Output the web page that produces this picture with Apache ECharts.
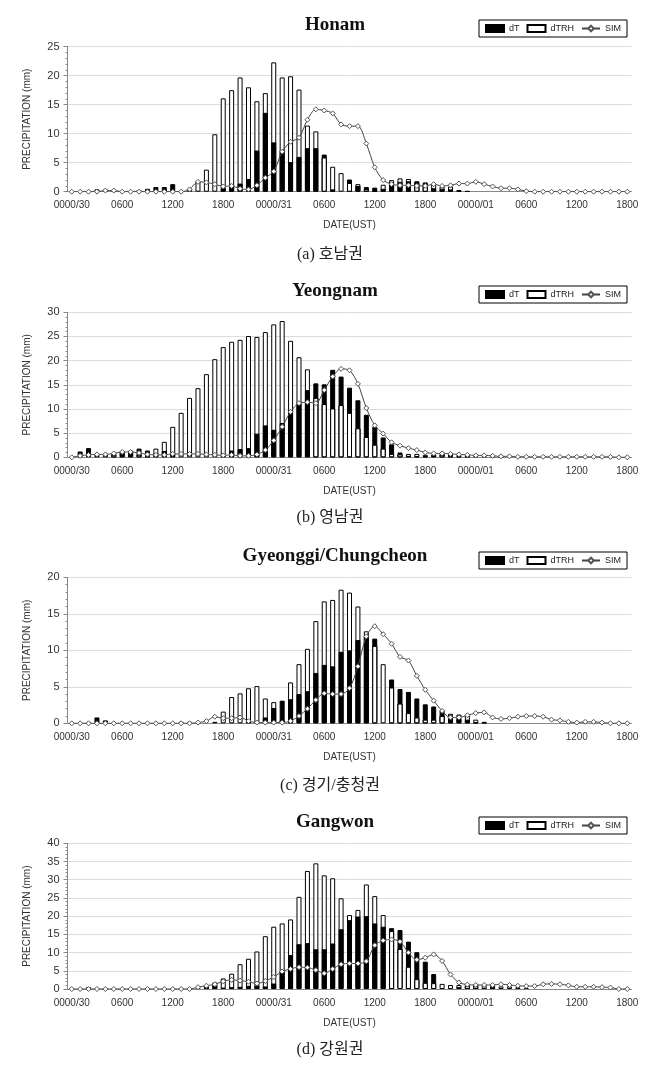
<!DOCTYPE html>
<html>
<head>
<meta charset="utf-8">
<script src="https://cdn.jsdelivr.net/npm/echarts@6/dist/echarts.min.js"></script>
<style>
html, body { margin: 0; padding: 0; background: #fff; }
#chart { width: 660px; height: 1068px; }
</style>
</head>
<body>
<div id="chart"></div>
<script>
// hourly categories, 0000 UTC on the 30th to 1800 UTC on the 1st
var categories = [
  '0000/30','0100','0200','0300','0400','0500','0600','0700','0800','0900','1000','1100',
  '1200','1300','1400','1500','1600','1700','1800','1900','2000','2100','2200','2300',
  '0000/31','0100','0200','0300','0400','0500','0600','0700','0800','0900','1000','1100',
  '1200','1300','1400','1500','1600','1700','1800','1900','2000','2100','2200','2300',
  '0000/01','0100','0200','0300','0400','0500','0600','0700','0800','0900','1000','1100',
  '1200','1300','1400','1500','1600','1700','1800'
];

var honamDT = [
  0, 0, 0, 0.4, 0.4, 0.2, 0, 0, 0.3, 0.5,
  0.8, 0.8, 1.3, 0.1, 0.5, 0, 0, 0, 0.6, 0.8,
  1.4, 2.2, 7.1, 13.6, 8.5, 7.1, 5.1, 6.0, 7.5, 7.5,
  6.4, 0.4, 0, 2.1, 1.0, 0.8, 0.7, 0.5, 1.5, 1.7,
  1.8, 1.8, 1.6, 0.6, 0.5, 0.4, 0.3, 0.1, 0, 0,
  0, 0, 0, 0, 0, 0, 0, 0, 0, 0,
  0, 0, 0, 0, 0, 0, 0
];
var honamDTRH = [
  0, 0, 0, 0, 0, 0, 0, 0, 0, 0,
  0, 0, 0, 0, 0, 1.8, 3.8, 9.9, 16.1, 17.5,
  19.7, 18.0, 15.6, 17.0, 22.3, 19.7, 19.9, 17.6, 11.4, 10.4,
  5.9, 4.3, 3.2, 1.5, 1.3, 0.4, 0.2, 1.2, 2.0, 2.3,
  2.2, 1.5, 1.3, 1.3, 0.9, 0.9, 0.2, 0, 0, 0,
  0, 0, 0, 0, 0, 0, 0, 0, 0, 0,
  0, 0, 0, 0, 0, 0, 0
];
var honamSIM = [
  0, 0, 0, 0, 0.2, 0.2, 0, 0, 0, 0,
  0, 0, 0, 0, 0.4, 1.7, 1.6, 1.3, 0.9, 1.0,
  0.5, 0.4, 1.1, 2.4, 3.5, 6.9, 8.6, 9.3, 12.4, 14.2,
  14.0, 13.5, 11.6, 11.3, 11.3, 8.3, 4.2, 2.0, 1.3, 1.1,
  1.1, 1.0, 1.0, 1.3, 1.0, 1.1, 1.4, 1.4, 1.7, 1.3,
  0.9, 0.6, 0.6, 0.4, 0.1, 0, 0, 0, 0, 0,
  0, 0, 0, 0, 0, 0, 0
];

var yeongnamDT = [
  0, 1.2, 1.9, 0.8, 0.7, 0.9, 1.2, 1.3, 1.8, 1.4,
  0.8, 1.3, 0.7, 0, 0, 0, 0, 0, 0.3, 1.4,
  1.7, 1.9, 4.9, 6.6, 5.7, 7.1, 9.5, 11.3, 13.9, 15.3,
  15.1, 18.1, 16.7, 14.4, 11.8, 8.8, 6.3, 4.1, 2.7, 1.0,
  0.3, 0.2, 0.2, 0.4, 1.0, 0.8, 0.2, 0.2, 0, 0,
  0, 0, 0, 0, 0, 0, 0, 0, 0, 0,
  0, 0, 0, 0, 0, 0, 0
];
var yeongnamDTRH = [
  0, 0, 0, 0, 0, 0.5, 1.3, 1.4, 0.5, 0.3,
  1.8, 3.2, 6.3, 9.2, 12.3, 14.3, 17.2, 20.3, 22.8, 23.9,
  24.3, 25.1, 24.9, 25.9, 27.5, 28.2, 24.1, 20.7, 18.2, 12.3,
  11.0, 10.1, 10.8, 9.2, 6.0, 4.2, 2.6, 1.8, 0.7, 0.6,
  0.7, 0.7, 0.5, 0.6, 0.5, 0.3, 0.5, 0.4, 0.3, 0.3,
  0.2, 0.1, 0, 0, 0, 0, 0, 0, 0, 0,
  0, 0, 0, 0, 0, 0, 0
];
var yeongnamSIM = [
  0, 0.3, 0.5, 0.6, 0.6, 0.8, 1.1, 1.1, 0.9, 0.6,
  0.5, 0.5, 0.7, 0.7, 0.7, 0.7, 0.6, 0.5, 0.4, 0.5,
  0.3, 0.3, 0.6, 1.5, 3.5, 6.3, 9.4, 11.2, 11.4, 11.2,
  13.9, 16.7, 18.3, 18.0, 15.2, 10.2, 6.6, 4.9, 3.1, 2.4,
  1.9, 1.5, 1.0, 0.8, 0.8, 0.7, 0.6, 0.5, 0.4, 0.4,
  0.3, 0.2, 0.2, 0.1, 0.1, 0.1, 0.1, 0.1, 0.1, 0.1,
  0.1, 0.1, 0.1, 0.1, 0.1, 0, 0
];

var gyeonggiDT = [
  0, 0, 0.1, 0.8, 0.4, 0, 0, 0, 0, 0,
  0, 0, 0, 0.2, 0.2, 0, 0, 0, 0, 0,
  0, 0.3, 0.1, 0.8, 2.1, 3.1, 3.3, 4.0, 4.4, 6.9,
  8.0, 7.8, 9.8, 10.0, 11.4, 12.0, 11.6, 0, 6.0, 4.7,
  4.3, 3.4, 2.6, 2.3, 1.8, 1.1, 0.6, 0.5, 0.1, 0.1,
  0, 0, 0, 0, 0, 0, 0, 0, 0, 0,
  0, 0, 0, 0, 0, 0, 0
];
var gyeonggiDTRH = [
  0, 0, 0, 0, 0, 0, 0, 0, 0, 0,
  0, 0, 0, 0, 0, 0, 0, 0.2, 1.6, 3.6,
  4.1, 4.8, 5.1, 3.4, 2.9, 0.4, 5.6, 8.1, 10.2, 14.0,
  16.7, 16.9, 18.3, 17.9, 16.0, 12.6, 10.6, 8.1, 4.9, 2.7,
  1.4, 0.8, 0.5, 0.5, 1.0, 1.3, 1.2, 1.1, 0.5, 0.2,
  0, 0, 0, 0, 0, 0, 0, 0, 0, 0,
  0, 0, 0, 0, 0, 0, 0
];
var gyeonggiSIM = [
  0, 0, 0, 0, 0, 0, 0, 0, 0, 0,
  0, 0, 0, 0, 0, 0.1, 0.3, 0.9, 0.7, 0.7,
  0.8, 0.3, 0.1, 0.1, 0.1, 0.1, 0.3, 1.0, 2.0, 3.2,
  4.1, 4.0, 4.0, 4.8, 7.8, 11.9, 13.3, 12.2, 10.9, 9.1,
  8.6, 6.5, 4.6, 3.1, 1.7, 0.8, 0.8, 1.1, 1.4, 1.5,
  0.8, 0.6, 0.7, 0.9, 1.0, 1.0, 0.9, 0.5, 0.4, 0.2,
  0.1, 0.2, 0.2, 0.1, 0, 0, 0
];

var gangwonDT = [
  0, 0.2, 0.5, 0.2, 0, 0, 0, 0, 0, 0,
  0, 0, 0.3, 0.3, 0, 0.4, 0.5, 0.9, 0.4, 0.5,
  0.6, 0.9, 0.9, 0.7, 1.5, 5.0, 9.3, 12.3, 12.6, 10.9,
  10.9, 12.5, 16.4, 18.9, 19.9, 20.0, 18.0, 17.1, 16.7, 16.2,
  13.0, 10.1, 7.5, 4.1, 0, 0, 0.5, 1.3, 1.4, 0.3,
  0.5, 0, 0, 0, 0, 0, 0, 0, 0, 0,
  0, 0, 0, 0, 0, 0, 0
];
var gangwonDTRH = [
  0, 0, 0, 0, 0, 0, 0, 0, 0, 0,
  0, 0, 0, 0, 0, 0, 0.8, 1.8, 2.9, 4.2,
  6.8, 8.3, 10.3, 14.5, 17.1, 18.0, 19.1, 25.3, 32.4, 34.5,
  31.2, 30.4, 24.9, 20.3, 21.7, 28.7, 25.5, 20.3, 15.9, 11.0,
  6.1, 2.7, 1.7, 1.6, 1.4, 1.1, 1.1, 0.8, 0.8, 0.9,
  0.9, 0.7, 0.7, 0.5, 0.3, 0, 0, 0, 0, 0,
  0, 0, 0, 0, 0, 0, 0
];
var gangwonSIM = [
  0, 0, 0, 0, 0, 0, 0, 0, 0, 0,
  0, 0, 0, 0, 0, 0.5, 0.9, 1.3, 2.1, 2.5,
  2.3, 2.0, 1.5, 2.2, 3.3, 4.8, 5.5, 6.0, 5.9, 5.2,
  4.3, 5.5, 6.8, 7.0, 7.0, 7.6, 12.0, 13.3, 13.6, 13.0,
  10.0, 8.0, 8.6, 9.5, 7.7, 4.0, 1.8, 1.2, 1.1, 1.1,
  1.1, 1.3, 1.1, 0.9, 0.8, 0.8, 1.3, 1.4, 1.3, 1.0,
  0.6, 0.6, 0.6, 0.5, 0.4, 0, 0
];

var panels = [
  { title: 'Honam', caption: '(a) 호남권', dT: honamDT, dTRH: honamDTRH, sim: honamSIM,
    max: 25, top: 46.7, height: 145, legendTop: 20, titleY: 25, captionY: 255 },
  { title: 'Yeongnam', caption: '(b) 영남권', dT: yeongnamDT, dTRH: yeongnamDTRH, sim: yeongnamSIM,
    max: 30, top: 312.3, height: 145, legendTop: 286, titleY: 291, captionY: 518 },
  { title: 'Gyeonggi/Chungcheon', caption: '(c) 경기/충청권', dT: gyeonggiDT, dTRH: gyeonggiDTRH, sim: gyeonggiSIM,
    max: 20, top: 577.3, height: 146, legendTop: 552, titleY: 556, captionY: 786 },
  { title: 'Gangwon', caption: '(d) 강원권', dT: gangwonDT, dTRH: gangwonDTRH, sim: gangwonSIM,
    max: 40, top: 843.3, height: 145.7, legendTop: 817, titleY: 822, captionY: 1050 }
];

var sansFont = '"Liberation Sans", Arial, sans-serif';
var grids = [], xAxes = [], yAxes = [], legends = [], series = [], texts = [];

function noZero(v) { return v === 0 ? '-' : v; }

panels.forEach(function (p, k) {
  grids.push({ left: 67.5, right: 28.5, top: p.top, height: p.height });

  xAxes.push({
    type: 'category', gridIndex: k, data: categories, boundaryGap: true,
    name: 'DATE(UST)', nameLocation: 'middle', nameGap: 29,
    nameTextStyle: { fontSize: 10, color: '#333', fontFamily: sansFont },
    axisLine: { lineStyle: { color: '#888' } },
    axisTick: { interval: 2, length: 4, lineStyle: { color: '#888' } },
    axisLabel: { interval: 5, margin: 9, fontSize: 10, color: '#333', fontFamily: sansFont },
    splitLine: { show: false }
  });

  yAxes.push({
    type: 'value', gridIndex: k, min: 0, max: p.max, interval: 5,
    name: 'PRECIPITATION (mm)', nameLocation: 'middle', nameGap: 35,
    nameTextStyle: { fontSize: 10, color: '#333', fontFamily: sansFont },
    axisLine: { show: true, lineStyle: { color: '#888' } },
    axisTick: { show: true, length: 4, lineStyle: { color: '#888' } },
    minorTick: { show: true, splitNumber: 5, length: 2, lineStyle: { color: '#888' } },
    axisLabel: { margin: 8, fontSize: 11, color: '#333', fontFamily: sansFont },
    splitLine: { lineStyle: { color: '#dcdcdc', width: 1 } }
  });

  legends.push({
    left: 479, top: p.legendTop, orient: 'horizontal',
    padding: [4, 6], itemGap: 7, itemWidth: 18, itemHeight: 7,
    borderColor: '#000', borderWidth: 1, selectedMode: false,
    textStyle: { fontSize: 9, color: '#222', fontFamily: sansFont },
    data: [{ name: 'dT', icon: 'rect' }, { name: 'dTRH', icon: 'rect' }, 'SIM']
  });

  var barStyle = { borderColor: '#000', borderWidth: 1 };
  // white dTRH bar behind, black dT bar in front, and a white dTRH bar on top
  // wherever dTRH is the shorter one, so the smaller bar always shows
  series.push({
    name: 'dTRH', type: 'bar', xAxisIndex: k, yAxisIndex: k,
    data: p.dTRH.map(noZero), barWidth: 5, barGap: '-100%',
    itemStyle: Object.assign({ color: '#fff' }, barStyle)
  });
  series.push({
    name: 'dT', type: 'bar', xAxisIndex: k, yAxisIndex: k,
    data: p.dT.map(noZero), barWidth: 5, barGap: '-100%',
    itemStyle: Object.assign({ color: '#000' }, barStyle)
  });
  series.push({
    name: 'dTRH', type: 'bar', xAxisIndex: k, yAxisIndex: k,
    data: p.dTRH.map(function (v, i) { return v > 0 && v < p.dT[i] ? v : '-'; }),
    barWidth: 5, barGap: '-100%',
    itemStyle: Object.assign({ color: '#fff' }, barStyle)
  });
  series.push({
    name: 'SIM', type: 'line', xAxisIndex: k, yAxisIndex: k,
    data: p.sim, smooth: 0.3, symbol: 'diamond', symbolSize: 5, showAllSymbol: true,
    lineStyle: { color: '#444', width: 1 },
    itemStyle: { color: '#fff', borderColor: '#555', borderWidth: 1 },
    z: 5
  });

  texts.push({
    type: 'text', x: 335, y: p.titleY,
    style: {
      text: p.title, fill: '#111', fontSize: 19, fontWeight: 'bold',
      fontFamily: '"Liberation Serif", "Times New Roman", serif',
      align: 'center', verticalAlign: 'middle', textAlign: 'center', textVerticalAlign: 'middle'
    }
  });
  texts.push({
    type: 'text', x: 330, y: p.captionY,
    style: {
      text: p.caption, fill: '#222', fontSize: 16,
      fontFamily: '"Liberation Serif", "Noto Sans CJK KR", serif',
      align: 'center', verticalAlign: 'middle', textAlign: 'center', textVerticalAlign: 'middle'
    }
  });
});

var chart = echarts.init(document.getElementById('chart'));
chart.setOption({
  animation: false,
  backgroundColor: '#fff',
  grid: grids,
  xAxis: xAxes,
  yAxis: yAxes,
  legend: legends,
  series: series,
  graphic: texts
});
</script>
</body>
</html>
